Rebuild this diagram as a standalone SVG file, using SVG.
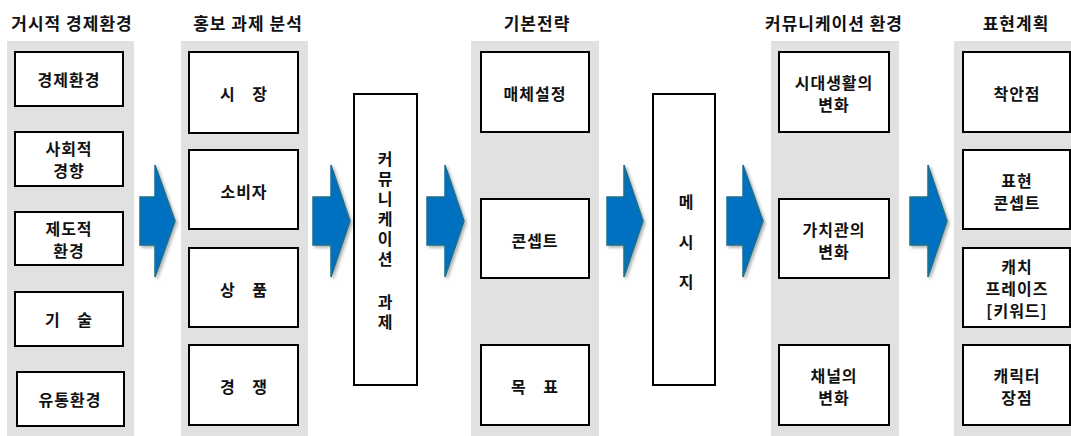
<svg xmlns="http://www.w3.org/2000/svg" width="1071" height="436" viewBox="0 0 1071 436">
<defs>
<style>
.bg{fill:#e1e1e1}
.box{fill:#fff;stroke:#000;stroke-width:2}
.t{font-family:"Noto Sans CJK KR","Noto Sans",sans-serif;font-weight:bold;font-size:16px;fill:#111;text-anchor:middle;dominant-baseline:central;letter-spacing:1px}
.h{font-size:17px}
.v{writing-mode:vertical-rl;text-orientation:upright;text-anchor:start}
.arr{fill:#0070c0;stroke:#1b6f8a;stroke-width:1.5;stroke-linejoin:miter;filter:url(#sh)}
</style>
<filter id="sh" x="-30%" y="-30%" width="160%" height="160%">
<feDropShadow dx="2" dy="2" stdDeviation="1.8" flood-color="#000" flood-opacity="0.3"/>
</filter>
</defs>
<g id="titles">
<text class="t h" x="72" y="22">거시적 경제환경</text>
<text class="t h" x="248" y="22">홍보 과제 분석</text>
<text class="t h" x="537" y="22">기본전략</text>
<text class="t h" x="834" y="22">커뮤니케이션 환경</text>
<text class="t h" x="1016" y="22">표현계획</text>
</g>
<g id="backgrounds">
<rect class="bg" x="7" y="41" width="127" height="395"/>
<rect class="bg" x="181" y="41" width="127" height="395"/>
<rect class="bg" x="471" y="41" width="128" height="395"/>
<rect class="bg" x="771" y="41" width="128" height="395"/>
<rect class="bg" x="954" y="41" width="117" height="395"/>
</g>
<g id="connectors">
<path class="arr" d="M140,197 H155 V165 L175,221 L155,277 V245 H140 Z"/>
<path class="arr" d="M313,197 H331 V165 L350,221 L331,277 V245 H313 Z"/>
<path class="arr" d="M427,197 H445 V165 L464,221 L445,277 V245 H427 Z"/>
<path class="arr" d="M607,197 H624 V165 L643,221 L624,277 V245 H607 Z"/>
<path class="arr" d="M727,197 H743 V165 L763,221 L743,277 V245 H727 Z"/>
<path class="arr" d="M910,197 H928 V165 L947,221 L928,277 V245 H910 Z"/>
</g>
<g id="n-econ"><rect class="box" x="15" y="52" width="108" height="54"/><text class="t" x="69" y="79">경제환경</text></g>
<g id="n-social"><rect class="box" x="15" y="132" width="108" height="54"/><text class="t" x="69" y="148">사회적</text><text class="t" x="69" y="170">경향</text></g>
<g id="n-inst"><rect class="box" x="15" y="212" width="108" height="53"/><text class="t" x="69" y="228">제도적</text><text class="t" x="69" y="250">환경</text></g>
<g id="n-tech"><rect class="box" x="15" y="292" width="108" height="54"/><text class="t" x="69" y="319" word-spacing="12">기 술</text></g>
<g id="n-dist"><rect class="box" x="17" y="372" width="107" height="54"/><text class="t" x="70" y="399">유통환경</text></g>

<g id="n-market"><rect class="box" x="189" y="52" width="109" height="81"/><text class="t" x="244" y="93" word-spacing="12">시 장</text></g>
<g id="n-consumer"><rect class="box" x="189" y="150" width="109" height="79"/><text class="t" x="244" y="191">소비자</text></g>
<g id="n-product"><rect class="box" x="189" y="248" width="109" height="79"/><text class="t" x="244" y="289" word-spacing="12">상 품</text></g>
<g id="n-compet"><rect class="box" x="189" y="345" width="109" height="80"/><text class="t" x="244" y="386" word-spacing="12">경 쟁</text></g>

<g id="n-commtask"><rect class="box" x="354" y="94" width="63" height="291"/>
<text class="t v" x="385" y="151" style="letter-spacing:4px">커뮤니케이션</text>
<text class="t v" x="385" y="294" style="letter-spacing:4px">과제</text></g>

<g id="n-media"><rect class="box" x="481" y="52" width="108" height="80"/><text class="t" x="535" y="93">매체설정</text></g>
<g id="n-concept"><rect class="box" x="481" y="199" width="108" height="79"/><text class="t" x="535" y="240">콘셉트</text></g>
<g id="n-goal"><rect class="box" x="481" y="345" width="108" height="80"/><text class="t" x="535" y="386" word-spacing="12">목 표</text></g>

<g id="n-message"><rect class="box" x="653" y="94" width="62" height="291"/>
<text class="t v" x="686" y="194" style="letter-spacing:24px">메시지</text></g>

<g id="n-life"><rect class="box" x="779" y="52" width="110" height="80"/><text class="t" x="834" y="82">시대생활의</text><text class="t" x="834" y="104">변화</text></g>
<g id="n-value"><rect class="box" x="779" y="199" width="110" height="79"/><text class="t" x="834" y="229">가치관의</text><text class="t" x="834" y="251">변화</text></g>
<g id="n-channel"><rect class="box" x="779" y="345" width="110" height="80"/><text class="t" x="834" y="375">채널의</text><text class="t" x="834" y="397">변화</text></g>

<g id="n-idea"><rect class="box" x="963" y="52" width="107" height="80"/><text class="t" x="1017" y="93">착안점</text></g>
<g id="n-expr"><rect class="box" x="963" y="150" width="107" height="79"/><text class="t" x="1017" y="180">표현</text><text class="t" x="1017" y="202">콘셉트</text></g>
<g id="n-catch"><rect class="box" x="963" y="248" width="107" height="79"/><text class="t" x="1017" y="266">캐치</text><text class="t" x="1017" y="288">프레이즈</text><text class="t" x="1017" y="310">[키워드]</text></g>
<g id="n-char"><rect class="box" x="963" y="345" width="107" height="80"/><text class="t" x="1017" y="375">캐릭터</text><text class="t" x="1017" y="397">장점</text></g>
</svg>
